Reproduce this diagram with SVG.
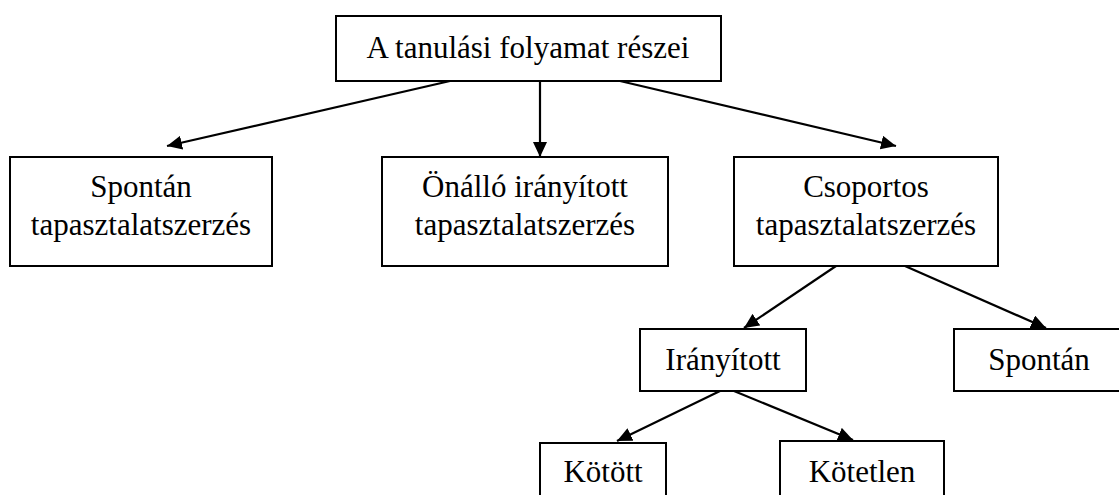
<svg xmlns="http://www.w3.org/2000/svg" width="1119" height="495" viewBox="0 0 1119 495">
<style>
.box{fill:#fff;stroke:#000;stroke-width:2}
text{font-family:'Liberation Serif','Times New Roman','DejaVu Serif',serif;font-size:31px;fill:#000;text-anchor:middle}
.c{stroke:#000;stroke-width:2.2;fill:none;marker-end:url(#ah)}
</style>
<defs>
<marker id="ah" viewBox="0 0 15 14" refX="15" refY="7" markerWidth="15" markerHeight="14" markerUnits="userSpaceOnUse" orient="auto">
<path d="M0,0 L15,7 L0,14 z" fill="#000"/>
</marker>
</defs>
<rect width="1119" height="495" fill="#fff"/>
<g id="connectors">
<line class="c" x1="450" y1="81" x2="167" y2="146"/>
<line class="c" x1="540" y1="81" x2="540" y2="157"/>
<line class="c" x1="620" y1="81" x2="896" y2="146"/>
<line class="c" x1="836" y1="266" x2="744" y2="328"/>
<line class="c" x1="905" y1="266" x2="1046" y2="328"/>
<line class="c" x1="720" y1="391" x2="617" y2="441"/>
<line class="c" x1="734" y1="391" x2="853" y2="440"/>
</g>
<g id="n-root">
<rect class="box" x="336" y="16" width="385" height="65"/>
<text x="528" y="58">A tanulási folyamat részei</text>
</g>
<g id="n-spontan">
<rect class="box" x="10" y="157" width="262" height="109"/>
<text x="141" y="197">Spontán</text>
<text x="141" y="235">tapasztalatszerzés</text>
</g>
<g id="n-onallo">
<rect class="box" x="382" y="157" width="286" height="109"/>
<text x="525" y="197">Önálló irányított</text>
<text x="525" y="235">tapasztalatszerzés</text>
</g>
<g id="n-csoportos">
<rect class="box" x="734" y="157" width="264" height="109"/>
<text x="866" y="197">Csoportos</text>
<text x="866" y="235">tapasztalatszerzés</text>
</g>
<g id="n-iranyitott">
<rect class="box" x="640" y="329" width="166" height="62"/>
<text x="723" y="370">Irányított</text>
</g>
<g id="n-spontan2">
<rect class="box" x="954" y="329" width="200" height="62"/>
<text x="1039" y="370">Spontán</text>
</g>
<g id="n-kotott">
<rect class="box" x="540" y="443" width="126" height="80"/>
<text x="603" y="482">Kötött</text>
</g>
<g id="n-kotetlen">
<rect class="box" x="780" y="441" width="164" height="80"/>
<text x="862" y="482">Kötetlen</text>
</g>
</svg>
